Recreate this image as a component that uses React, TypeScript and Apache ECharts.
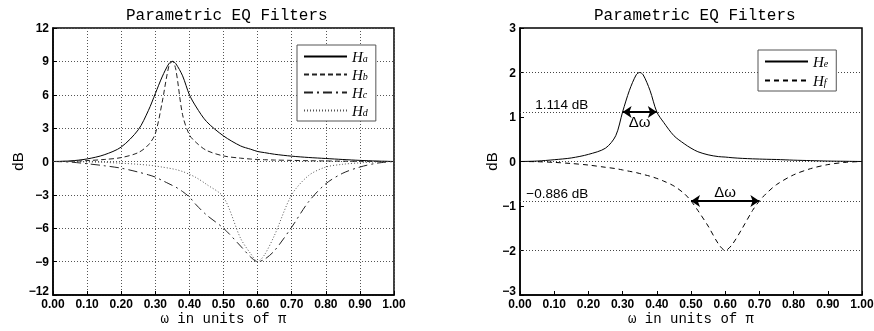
import React, { useEffect, useRef } from "react";
import * as echarts from "echarts";

// ---- Left panel data (ω in units of π, dB) ----
const omegaL = [0, 0.05, 0.1, 0.15, 0.2, 0.25, 0.28, 0.3, 0.32, 0.34, 0.35, 0.36, 0.38, 0.4, 0.42, 0.45, 0.5, 0.55, 0.58, 0.6, 0.62, 0.65, 0.7, 0.75, 0.8, 0.85, 0.9, 0.95, 1.0];
const Ha = [0, 0.05, 0.23, 0.6, 1.3, 2.85, 4.6, 6.1, 7.6, 8.8, 9.0, 8.8, 7.7, 6.0, 4.9, 3.6, 2.3, 1.4, 1.1, 0.9, 0.8, 0.65, 0.48, 0.36, 0.27, 0.18, 0.1, 0.04, 0];
const Hb = [0, 0.02, 0.08, 0.18, 0.35, 0.8, 1.5, 2.5, 5.3, 8.6, 9.0, 8.3, 4.2, 2.4, 1.7, 1.0, 0.5, 0.3, 0.22, 0.18, 0.16, 0.13, 0.1, 0.07, 0.05, 0.03, 0.02, 0.01, 0];
const Hc = [0, -0.05, -0.2, -0.38, -0.6, -0.95, -1.2, -1.4, -1.7, -2.0, -2.15, -2.3, -2.7, -3.2, -3.9, -4.8, -6.0, -7.6, -8.6, -9.0, -8.8, -8.0, -5.9, -3.6, -2.0, -1.05, -0.5, -0.15, 0];
const Hd = [0, -0.01, -0.04, -0.08, -0.15, -0.25, -0.33, -0.4, -0.5, -0.6, -0.66, -0.72, -0.9, -1.15, -1.45, -2.05, -3.2, -6.9, -8.3, -9.0, -8.4, -6.6, -3.0, -1.25, -0.5, -0.25, -0.12, -0.04, 0];

// ---- Right panel data ----
const omegaR = [0, 0.05, 0.1, 0.15, 0.2, 0.25, 0.28, 0.3, 0.32, 0.34, 0.35, 0.36, 0.38, 0.4, 0.42, 0.45, 0.48, 0.5, 0.52, 0.55, 0.58, 0.6, 0.62, 0.65, 0.68, 0.7, 0.72, 0.75, 0.8, 0.85, 0.9, 0.95, 1.0];
const He = [0, 0.01, 0.04, 0.08, 0.16, 0.3, 0.58, 1.114, 1.6, 1.95, 2.0, 1.95, 1.6, 1.114, 0.88, 0.58, 0.4, 0.3, 0.22, 0.15, 0.11, 0.1, 0.085, 0.07, 0.06, 0.055, 0.05, 0.045, 0.03, 0.02, 0.01, 0.005, 0];
const Hf = [0, -0.005, -0.02, -0.045, -0.08, -0.13, -0.16, -0.19, -0.22, -0.25, -0.27, -0.29, -0.33, -0.38, -0.44, -0.55, -0.72, -0.886, -1.1, -1.45, -1.85, -2.0, -1.87, -1.5, -1.1, -0.886, -0.72, -0.52, -0.3, -0.16, -0.07, -0.02, 0];

const refLevels = [2, 0, -2];
const halfLevels = [1.114, -0.886];
const heBand = [0.3, 0.4];
const hfBand = [0.5, 0.7];

const seriesNamesL = ["Ha", "Hb", "Hc", "Hd"];
const seriesNamesR = ["He", "Hf"];

const pair = (xs: number[], ys: number[]) => xs.map((x, i) => [x, ys[i]]);
const minus = (v: number) => (v < 0 ? "\u2212" + Math.abs(v) : String(v));
const minusStr = (s: string) => s.replace("-", "\u2212");

const tickFont = { color: "#000", fontFamily: "Liberation Sans", fontSize: 12, fontWeight: "bold" };

const xAxisBase = (gi: number, split: boolean) => ({
  gridIndex: gi,
  type: "value",
  min: 0,
  max: 1,
  interval: 0.1,
  axisLine: { show: true, onZero: false, lineStyle: { color: "#000", width: 1.5 } },
  axisTick: { show: true, inside: true, length: 4, lineStyle: { color: "#000" } },
  axisLabel: { ...tickFont, margin: 3, formatter: (v: number) => v.toFixed(2) },
  splitLine: { show: split, lineStyle: { type: [1, 2], color: "#555", width: 1 } },
  name: "ω in units of π",
  nameLocation: "middle",
  nameGap: 17,
  nameMoveOverlap: false,
  nameTextStyle: { fontFamily: "Liberation Mono", fontSize: 14, color: "#000" },
});

const yAxisBase = (gi: number, min: number, max: number, interval: number, split: boolean, gap: number) => ({
  gridIndex: gi,
  type: "value",
  min,
  max,
  interval,
  axisLine: { show: true, onZero: false, lineStyle: { color: "#000", width: 1.5 } },
  axisTick: { show: true, inside: true, length: 4, lineStyle: { color: "#000" } },
  axisLabel: {
    ...tickFont,
    margin: 4,
    formatter: (v: number) => (v === min ? `{m|${minus(v)}}` : minus(v)),
    rich: { m: { ...tickFont, padding: [0, 0, 8, 0] } },
  },
  splitLine: { show: split, lineStyle: { type: [1, 2], color: "#555", width: 1 } },
  name: "dB",
  nameLocation: "middle",
  nameGap: gap,
  nameMoveOverlap: false,
  nameTextStyle: { fontFamily: "Liberation Sans", fontSize: 15, color: "#000" },
});

const legendRich = {
  h: { fontFamily: "Liberation Serif", fontStyle: "italic", fontSize: 15, color: "#000", lineHeight: 13 },
  s: { fontFamily: "Liberation Serif", fontStyle: "italic", fontSize: 10, color: "#000", lineHeight: 5, verticalAlign: "bottom" },
};

const legendBase = (data: string[], left: number, top: number, gap: number) => ({
  data,
  orient: "vertical",
  left,
  top,
  itemWidth: 43,
  itemHeight: 10,
  itemGap: gap,
  padding: [4, 8, 3, 6],
  borderColor: "#555",
  borderWidth: 1,
  backgroundColor: "#fff",
  itemStyle: { color: "transparent", borderColor: "transparent", borderWidth: 0, opacity: 0 },
  formatter: (n: string) => `{h|H}{s|${n.slice(1)}}`,
  textStyle: { lineHeight: 13, rich: legendRich },
});

const gridBase = (left: number, width: number) => ({
  left,
  top: 28,
  width,
  height: 267,
  show: true,
  borderColor: "#000",
  borderWidth: 1.5,
  backgroundColor: "transparent",
  containLabel: false,
  outerBoundsMode: "none",
});

const lineSeries = (name: string, xs: number[], ys: number[], gi: number, type: any, color: string, extra: any = {}) => ({
  name,
  type: "line",
  xAxisIndex: gi,
  yAxisIndex: gi,
  data: pair(xs, ys),
  smooth: 0.3,
  symbol: "none",
  lineStyle: { color, width: 1, type },
  itemStyle: { color },
  z: 3,
  ...extra,
});

export default function App() {
  const ref = useRef<HTMLDivElement>(null);
  useEffect(() => {
    if (!ref.current) return;
    const chart = echarts.init(ref.current, null, { renderer: "svg" });
    const titleStyle = { fontFamily: "Liberation Mono", fontSize: 16, fontWeight: "normal", color: "#000" };
    chart.setOption({
      animation: false,
      title: [
        { text: "Parametric EQ Filters", left: 121, top: 3, textStyle: titleStyle },
        { text: "Parametric EQ Filters", left: 589, top: 3, textStyle: titleStyle },
      ],
      grid: [gridBase(53, 341), gridBase(520, 342)],
      xAxis: [xAxisBase(0, true), xAxisBase(1, false)],
      yAxis: [yAxisBase(0, -12, 12, 3, true, 28), yAxisBase(1, -3, 3, 1, false, 21)],
      legend: [legendBase(seriesNamesL, 297, 45, 3), legendBase(seriesNamesR, 758, 50, 4)],
      series: [
        lineSeries("Ha", omegaL, Ha, 0, "solid", "#000"),
        lineSeries("Hb", omegaL, Hb, 0, [5, 3], "#222"),
        lineSeries("Hc", omegaL, Hc, 0, [9, 4, 2, 4], "#222"),
        lineSeries("Hd", omegaL, Hd, 0, [1, 2], "#555"),
        lineSeries("He", omegaR, He, 1, "solid", "#000", {
          markLine: {
            silent: true,
            symbol: "none",
            label: { show: false },
            lineStyle: { type: [1, 2], color: "#444", width: 1 },
            data: [...refLevels, ...halfLevels].map((v) => ({ yAxis: v })),
            z: 1,
          },
          markPoint: {
            silent: true,
            symbol: "circle",
            symbolSize: 0,
            label: {
              show: true,
              position: "left",
              offset: [0, -7],
              color: "#000",
              fontFamily: "Liberation Sans",
              fontSize: 13.5,
              formatter: (p: any) => p.name,
            },
            data: halfLevels.map((v) => ({ name: minusStr(v.toFixed(3)) + " dB", coord: [0.214, v] })),
          },
        }),
        lineSeries("Hf", omegaR, Hf, 1, [5, 4], "#000", {
          markLine: {
            silent: true,
            symbol: ["arrow", "arrow"],
            symbolSize: 9,
            lineStyle: { type: "solid", color: "#000", width: 2 },
            label: {
              show: true,
              formatter: "Δω",
              color: "#000",
              fontFamily: "Liberation Sans",
              fontSize: 15,
              distance: 2,
            },
            data: [
              [
                { coord: [heBand[0], halfLevels[0]], label: { position: "insideMiddleBottom" } },
                { coord: [heBand[1], halfLevels[0]] },
              ],
              [
                { coord: [hfBand[0], halfLevels[1]], label: { position: "insideMiddleTop" } },
                { coord: [hfBand[1], halfLevels[1]] },
              ],
            ],
            z: 5,
          },
        }),
      ],
    });
    return () => chart.dispose();
  }, []);
  return <div ref={ref} style={{ position: "fixed", left: 0, top: 0, width: 874, height: 331 }} />;
}
